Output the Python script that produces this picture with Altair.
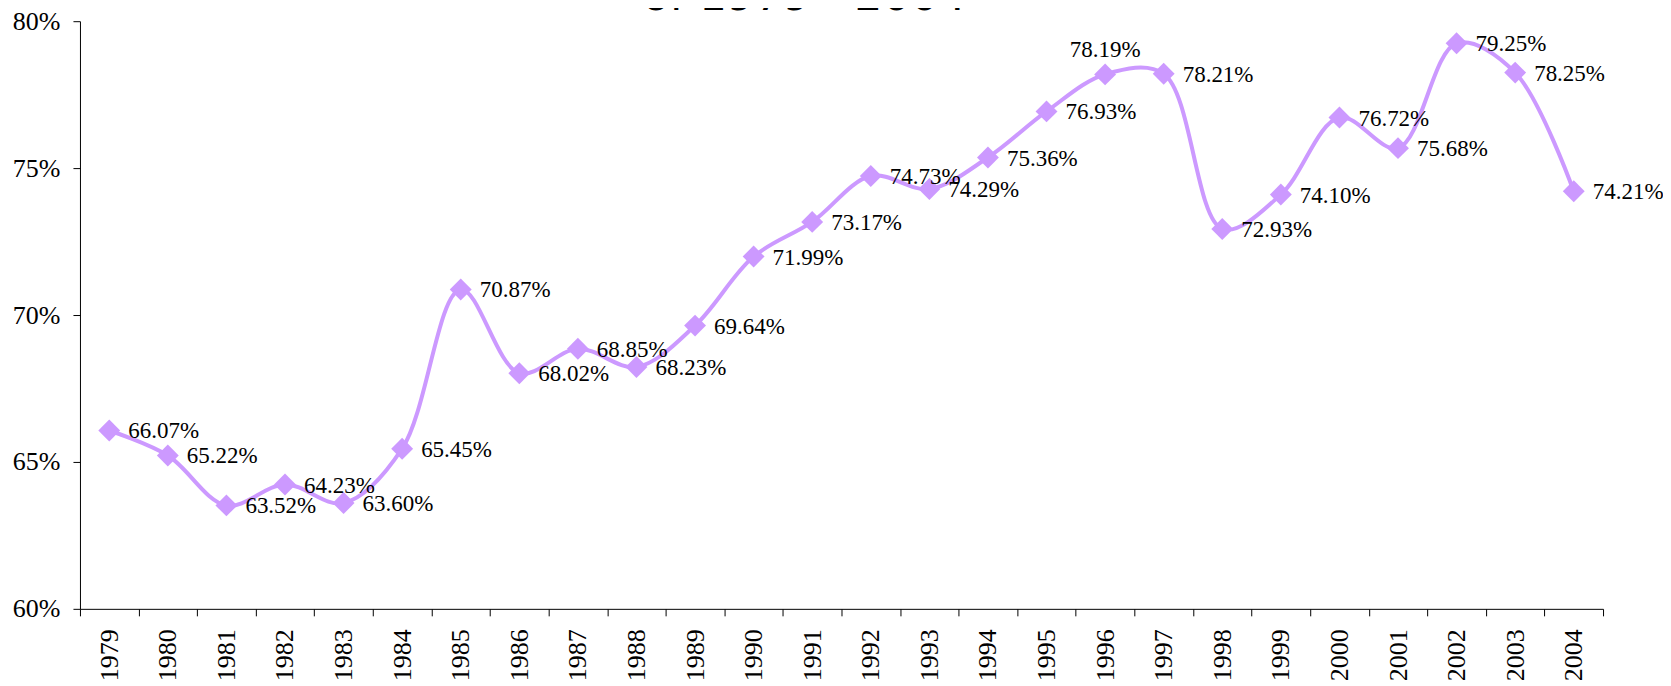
import altair as alt
import pandas as pd

years = [str(y) for y in range(1979, 2005)]
values = [66.07, 65.22, 63.52, 64.23, 63.60, 65.45, 70.87, 68.02, 68.85, 68.23,
          69.64, 71.99, 73.17, 74.73, 74.29, 75.36, 76.93, 78.19, 78.21, 72.93,
          74.10, 76.72, 75.68, 79.25, 78.25, 74.21]
above_label_years = ["1996"]
title_text = "of 1979 - 2004"

df = pd.DataFrame({"year": years, "value": [v / 100 for v in values]})

COLOR = "#CC99FF"
SERIF = "'Liberation Serif', 'DejaVu Serif', serif"

x = alt.X("year:N", sort=None,
          scale=alt.Scale(type="band", paddingInner=0, paddingOuter=0),
          axis=alt.Axis(title=None, labelAngle=270, tickBand="extent",
                        labelFont=SERIF, labelFontSize=26, labelColor="black",
                        tickSize=7, tickColor="black", domainColor="black",
                        labelPadding=13, grid=False))
y = alt.Y("value:Q",
          scale=alt.Scale(domain=[0.6, 0.8], nice=False, zero=False),
          axis=alt.Axis(title=None, format=".0%", values=[0.6, 0.65, 0.7, 0.75, 0.8],
                        grid=False, labelFont=SERIF, labelFontSize=26,
                        labelColor="black", tickSize=7, tickColor="black",
                        domainColor="black", labelPadding=13))

base = alt.Chart(df)

line = base.mark_line(color=COLOR, strokeWidth=4, interpolate="catmull-rom").encode(x=x, y=y)
points = base.mark_point(shape="diamond", filled=True, color=COLOR, size=480, opacity=1).encode(x=x, y=y)

labels_right = base.transform_filter(
    ~alt.FieldOneOfPredicate(field="year", oneOf=above_label_years)
).mark_text(align="left", baseline="middle", dx=19, dy=1, font=SERIF, fontSize=23, color="black").encode(
    x=x, y=y, text=alt.Text("value:Q", format=".2%"))

labels_above = base.transform_filter(
    alt.FieldOneOfPredicate(field="year", oneOf=above_label_years)
).mark_text(align="center", baseline="middle", dy=-24, font=SERIF, fontSize=23, color="black").encode(
    x=x, y=y, text=alt.Text("value:Q", format=".2%"))

title = alt.Chart(pd.DataFrame({"t": [title_text]})).mark_text(
    align="center", baseline="alphabetic", font="DejaVu Sans", fontSize=44, color="black"
).encode(x=alt.value(725), y=alt.value(-11), text="t:N")

chart = alt.layer(line, points, labels_right, labels_above, title).properties(
    width=1524, height=588,
    autosize=alt.AutoSizeParams(type="none"),
    padding={"left": 72, "top": 13, "right": 60, "bottom": 76},
).configure_view(stroke=None)

chart.save("out.html", embed_options={"renderer": "svg", "actions": False})
